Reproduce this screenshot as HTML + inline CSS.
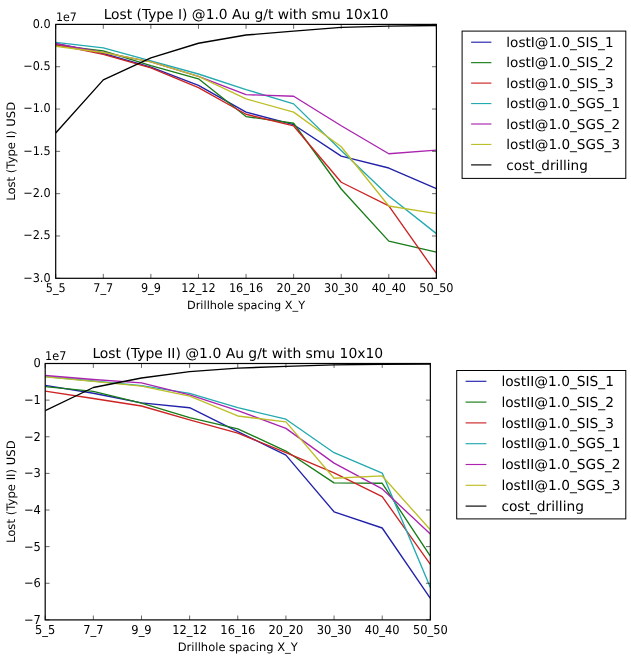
<!DOCTYPE html>
<html><head><meta charset="utf-8"><title>Lost plots</title>
<style>html,body{margin:0;padding:0;background:#fff;width:631px;height:664px;overflow:hidden}svg{display:block;will-change:transform}</style>
</head><body>
<svg width="631" height="664" viewBox="0 0 631 664" font-family="'DejaVu Sans', 'Liberation Sans', sans-serif" fill="#000" text-rendering="geometricPrecision">
<rect width="631" height="664" fill="#fff"/>
<clipPath id="clip24"><rect x="55.7" y="24.4" width="380.7" height="253.9"/></clipPath>
<g clip-path="url(#clip24)" fill="none" stroke-width="1.35" stroke-linejoin="round" stroke-linecap="butt">
<polyline stroke="#2222aa" points="55.7,43.44 103.29,53.51 150.88,67.14 198.46,85.34 246.05,112.08 293.64,124.69 341.22,156.09 388.81,168.02 436.4,188.59"/>
<polyline stroke="#187c18" points="55.7,45.14 103.29,50.81 150.88,65.53 198.46,78.82 246.05,116.57 293.64,123.25 341.22,189.01 388.81,241.15 436.4,252.06"/>
<polyline stroke="#cc2424" points="55.7,44.54 103.29,54.44 150.88,67.9 198.46,87.62 246.05,114.28 293.64,125.96 341.22,182.24 388.81,205.77 436.4,273.39"/>
<polyline stroke="#22aab0" points="55.7,42.43 103.29,47.84 150.88,60.96 198.46,74 246.05,89.57 293.64,103.87 341.22,150.5 388.81,195.95 436.4,233.61"/>
<polyline stroke="#aa24b0" points="55.7,43.7 103.29,52.5 150.88,61.81 198.46,76.45 246.05,94.65 293.64,96.25 341.22,125.71 388.81,153.72 436.4,150.08"/>
<polyline stroke="#bebe28" points="55.7,46.24 103.29,52.5 150.88,61.81 198.46,76.45 246.05,98.88 293.64,112.16 341.22,146.78 388.81,206.02 436.4,213.56"/>
<polyline stroke="#000000" points="55.7,133.07 103.29,79.84 150.88,57.94 198.46,43.27 246.05,35.01 293.64,31.19 341.22,27.42 388.81,26.1 436.4,25.49"/>
</g>
<path d="M55.7 278.3v-4.4M55.7 24.4v4.4M103.29 278.3v-4.4M103.29 24.4v4.4M150.88 278.3v-4.4M150.88 24.4v4.4M198.46 278.3v-4.4M198.46 24.4v4.4M246.05 278.3v-4.4M246.05 24.4v4.4M293.64 278.3v-4.4M293.64 24.4v4.4M341.22 278.3v-4.4M341.22 24.4v4.4M388.81 278.3v-4.4M388.81 24.4v4.4M436.4 278.3v-4.4M436.4 24.4v4.4M55.7 24.4h4.4M436.4 24.4h-4.4M55.7 66.72h4.4M436.4 66.72h-4.4M55.7 109.03h4.4M436.4 109.03h-4.4M55.7 151.35h4.4M436.4 151.35h-4.4M55.7 193.67h4.4M436.4 193.67h-4.4M55.7 235.98h4.4M436.4 235.98h-4.4M55.7 278.3h4.4M436.4 278.3h-4.4" stroke="#000" stroke-width="0.6" fill="none"/>
<rect x="55.7" y="24.4" width="380.7" height="253.9" fill="none" stroke="#000" stroke-width="1.2"/>
<text transform="translate(55.7 291.9) scale(1 1.07)" font-size="11.25" text-anchor="middle">5_5</text>
<text transform="translate(103.29 291.9) scale(1 1.07)" font-size="11.25" text-anchor="middle">7_7</text>
<text transform="translate(150.88 291.9) scale(1 1.07)" font-size="11.25" text-anchor="middle">9_9</text>
<text transform="translate(198.46 291.9) scale(1 1.07)" font-size="11.25" text-anchor="middle">12_12</text>
<text transform="translate(246.05 291.9) scale(1 1.07)" font-size="11.25" text-anchor="middle">16_16</text>
<text transform="translate(293.64 291.9) scale(1 1.07)" font-size="11.25" text-anchor="middle">20_20</text>
<text transform="translate(341.22 291.9) scale(1 1.07)" font-size="11.25" text-anchor="middle">30_30</text>
<text transform="translate(388.81 291.9) scale(1 1.07)" font-size="11.25" text-anchor="middle">40_40</text>
<text transform="translate(436.4 291.9) scale(1 1.07)" font-size="11.25" text-anchor="middle">50_50</text>
<text transform="translate(50.6 24.1) scale(1 1.07)" font-size="11.25" text-anchor="end" dominant-baseline="central">0.0</text>
<text transform="translate(50.6 66.42) scale(1 1.07)" font-size="11.25" text-anchor="end" dominant-baseline="central">−0.5</text>
<text transform="translate(50.6 108.73) scale(1 1.07)" font-size="11.25" text-anchor="end" dominant-baseline="central">−1.0</text>
<text transform="translate(50.6 151.05) scale(1 1.07)" font-size="11.25" text-anchor="end" dominant-baseline="central">−1.5</text>
<text transform="translate(50.6 193.37) scale(1 1.07)" font-size="11.25" text-anchor="end" dominant-baseline="central">−2.0</text>
<text transform="translate(50.6 235.68) scale(1 1.07)" font-size="11.25" text-anchor="end" dominant-baseline="central">−2.5</text>
<text transform="translate(50.6 278) scale(1 1.07)" font-size="11.25" text-anchor="end" dominant-baseline="central">−3.0</text>
<text transform="translate(55.9 20.8) scale(1 1.07)" font-size="11.05">1e7</text>
<text x="246.05" y="18.6" font-size="13.8" text-anchor="middle">Lost (Type I) @1.0 Au g/t with smu 10x10</text>
<text x="246.05" y="309" font-size="11.3" text-anchor="middle">Drillhole spacing X_Y</text>
<text transform="translate(14.9 151.35) rotate(-90)" font-size="11.6" text-anchor="middle">Lost (Type I) USD</text>
<rect x="462.1" y="31.1" width="163.7" height="147.3" fill="#fff" stroke="#000" stroke-width="1"/>
<path d="M471.1 42.2H491.4" stroke="#2222aa" stroke-width="1.15"/>
<text x="506.3" y="42.9" font-size="13.6" dominant-baseline="central">lostI@1.0_SIS_1</text>
<path d="M471.1 62.65H491.4" stroke="#187c18" stroke-width="1.15"/>
<text x="506.3" y="63.35" font-size="13.6" dominant-baseline="central">lostI@1.0_SIS_2</text>
<path d="M471.1 83.1H491.4" stroke="#cc2424" stroke-width="1.15"/>
<text x="506.3" y="83.8" font-size="13.6" dominant-baseline="central">lostI@1.0_SIS_3</text>
<path d="M471.1 103.55H491.4" stroke="#22aab0" stroke-width="1.15"/>
<text x="506.3" y="104.25" font-size="13.6" dominant-baseline="central">lostI@1.0_SGS_1</text>
<path d="M471.1 124H491.4" stroke="#aa24b0" stroke-width="1.15"/>
<text x="506.3" y="124.7" font-size="13.6" dominant-baseline="central">lostI@1.0_SGS_2</text>
<path d="M471.1 144.45H491.4" stroke="#bebe28" stroke-width="1.15"/>
<text x="506.3" y="145.15" font-size="13.6" dominant-baseline="central">lostI@1.0_SGS_3</text>
<path d="M471.1 164.9H491.4" stroke="#000000" stroke-width="1.15"/>
<text x="506.3" y="165.6" font-size="13.6" dominant-baseline="central">cost_drilling</text>
<clipPath id="clip363"><rect x="45.2" y="363.5" width="385.15" height="256.4"/></clipPath>
<g clip-path="url(#clip363)" fill="none" stroke-width="1.35" stroke-linejoin="round" stroke-linecap="butt">
<polyline stroke="#2222aa" points="45.2,385.4 93.34,393.28 141.49,402.88 189.63,407.71 237.78,431.7 285.92,455.07 334.06,511.81 382.21,528 430.35,598.29"/>
<polyline stroke="#187c18" points="45.2,386.58 93.34,391.37 141.49,403.06 189.63,417.71 237.78,428.88 285.92,451.04 334.06,482.91 382.21,483.28 430.35,556.17"/>
<polyline stroke="#cc2424" points="45.2,391.08 93.34,398.48 141.49,405.99 189.63,419.91 237.78,433.09 285.92,452.51 334.06,472.8 382.21,496.61 430.35,564.41"/>
<polyline stroke="#22aab0" points="45.2,376.5 93.34,381.01 141.49,385.59 189.63,393.39 237.78,407.71 285.92,419.18 334.06,452.69 382.21,473.02 430.35,587.48"/>
<polyline stroke="#aa24b0" points="45.2,375.51 93.34,379.51 141.49,382.91 189.63,394.82 237.78,410.57 285.92,428.33 334.06,463.13 382.21,488.95 430.35,534.01"/>
<polyline stroke="#bebe28" points="45.2,376.83 93.34,381.41 141.49,386.1 189.63,396.21 237.78,415.99 285.92,421.92 334.06,478.22 382.21,475.95 430.35,529.79"/>
<polyline stroke="#000000" points="45.2,410.53 93.34,387.5 141.49,378.02 189.63,371.67 237.78,368.09 285.92,366.44 334.06,364.81 382.21,364.23 430.35,363.97"/>
</g>
<path d="M45.2 619.9v-4.4M45.2 363.5v4.4M93.34 619.9v-4.4M93.34 363.5v4.4M141.49 619.9v-4.4M141.49 363.5v4.4M189.63 619.9v-4.4M189.63 363.5v4.4M237.78 619.9v-4.4M237.78 363.5v4.4M285.92 619.9v-4.4M285.92 363.5v4.4M334.06 619.9v-4.4M334.06 363.5v4.4M382.21 619.9v-4.4M382.21 363.5v4.4M430.35 619.9v-4.4M430.35 363.5v4.4M45.2 363.5h4.4M430.35 363.5h-4.4M45.2 400.13h4.4M430.35 400.13h-4.4M45.2 436.76h4.4M430.35 436.76h-4.4M45.2 473.39h4.4M430.35 473.39h-4.4M45.2 510.01h4.4M430.35 510.01h-4.4M45.2 546.64h4.4M430.35 546.64h-4.4M45.2 583.27h4.4M430.35 583.27h-4.4M45.2 619.9h4.4M430.35 619.9h-4.4" stroke="#000" stroke-width="0.6" fill="none"/>
<rect x="45.2" y="363.5" width="385.15" height="256.4" fill="none" stroke="#000" stroke-width="1.2"/>
<text transform="translate(45.2 634) scale(1 1.07)" font-size="11.45" text-anchor="middle">5_5</text>
<text transform="translate(93.34 634) scale(1 1.07)" font-size="11.45" text-anchor="middle">7_7</text>
<text transform="translate(141.49 634) scale(1 1.07)" font-size="11.45" text-anchor="middle">9_9</text>
<text transform="translate(189.63 634) scale(1 1.07)" font-size="11.45" text-anchor="middle">12_12</text>
<text transform="translate(237.78 634) scale(1 1.07)" font-size="11.45" text-anchor="middle">16_16</text>
<text transform="translate(285.92 634) scale(1 1.07)" font-size="11.45" text-anchor="middle">20_20</text>
<text transform="translate(334.06 634) scale(1 1.07)" font-size="11.45" text-anchor="middle">30_30</text>
<text transform="translate(382.21 634) scale(1 1.07)" font-size="11.45" text-anchor="middle">40_40</text>
<text transform="translate(430.35 634) scale(1 1.07)" font-size="11.45" text-anchor="middle">50_50</text>
<text transform="translate(40.8 363.2) scale(1 1.07)" font-size="11.45" text-anchor="end" dominant-baseline="central">0</text>
<text transform="translate(40.8 399.83) scale(1 1.07)" font-size="11.45" text-anchor="end" dominant-baseline="central">−1</text>
<text transform="translate(40.8 436.46) scale(1 1.07)" font-size="11.45" text-anchor="end" dominant-baseline="central">−2</text>
<text transform="translate(40.8 473.09) scale(1 1.07)" font-size="11.45" text-anchor="end" dominant-baseline="central">−3</text>
<text transform="translate(40.8 509.71) scale(1 1.07)" font-size="11.45" text-anchor="end" dominant-baseline="central">−4</text>
<text transform="translate(40.8 546.34) scale(1 1.07)" font-size="11.45" text-anchor="end" dominant-baseline="central">−5</text>
<text transform="translate(40.8 582.97) scale(1 1.07)" font-size="11.45" text-anchor="end" dominant-baseline="central">−6</text>
<text transform="translate(40.8 619.6) scale(1 1.07)" font-size="11.45" text-anchor="end" dominant-baseline="central">−7</text>
<text transform="translate(45.1 360.1) scale(1 1.07)" font-size="11.25">1e7</text>
<text x="237.78" y="357.8" font-size="13.9" text-anchor="middle">Lost (Type II) @1.0 Au g/t with smu 10x10</text>
<text x="237.78" y="651" font-size="11.5" text-anchor="middle">Drillhole spacing X_Y</text>
<text transform="translate(15 491.7) rotate(-90)" font-size="11.65" text-anchor="middle">Lost (Type II) USD</text>
<rect x="456.7" y="370.5" width="169.1" height="148.4" fill="#fff" stroke="#000" stroke-width="1"/>
<path d="M465.6 381.3H486.4" stroke="#2222aa" stroke-width="1.15"/>
<text x="501.4" y="382" font-size="13.75" dominant-baseline="central">lostII@1.0_SIS_1</text>
<path d="M465.6 402.1H486.4" stroke="#187c18" stroke-width="1.15"/>
<text x="501.4" y="402.8" font-size="13.75" dominant-baseline="central">lostII@1.0_SIS_2</text>
<path d="M465.6 422.9H486.4" stroke="#cc2424" stroke-width="1.15"/>
<text x="501.4" y="423.6" font-size="13.75" dominant-baseline="central">lostII@1.0_SIS_3</text>
<path d="M465.6 443.7H486.4" stroke="#22aab0" stroke-width="1.15"/>
<text x="501.4" y="444.4" font-size="13.75" dominant-baseline="central">lostII@1.0_SGS_1</text>
<path d="M465.6 464.5H486.4" stroke="#aa24b0" stroke-width="1.15"/>
<text x="501.4" y="465.2" font-size="13.75" dominant-baseline="central">lostII@1.0_SGS_2</text>
<path d="M465.6 485.3H486.4" stroke="#bebe28" stroke-width="1.15"/>
<text x="501.4" y="486" font-size="13.75" dominant-baseline="central">lostII@1.0_SGS_3</text>
<path d="M465.6 506.1H486.4" stroke="#000000" stroke-width="1.15"/>
<text x="501.4" y="506.8" font-size="13.75" dominant-baseline="central">cost_drilling</text>
</svg>
</body></html>
